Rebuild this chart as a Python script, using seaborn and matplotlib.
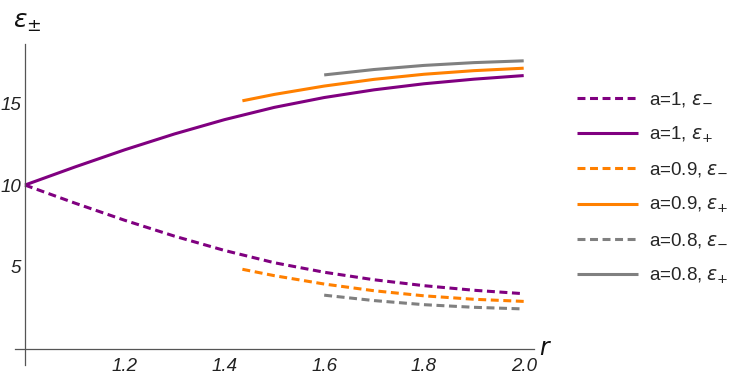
import matplotlib
matplotlib.use("Agg")
import matplotlib.pyplot as plt
import seaborn as sns
import pandas as pd
from matplotlib.ticker import FixedLocator, FuncFormatter

# values
r_a1 = [1.0, 1.1, 1.2, 1.3, 1.4, 1.5, 1.6, 1.7, 1.8, 1.9, 2.0]
eps_minus_a1 = [10.0, 8.9, 7.85, 6.88, 6.01, 5.26, 4.68, 4.22, 3.86, 3.58, 3.37]
eps_plus_a1 = [10.0, 11.1, 12.15, 13.12, 13.99, 14.74, 15.34, 15.81, 16.18, 16.46, 16.68]

r_a09 = [1.436, 1.5, 1.6, 1.7, 1.8, 1.9, 2.0]
eps_minus_a09 = [4.86, 4.47, 3.96, 3.55, 3.24, 3.03, 2.9]
eps_plus_a09 = [15.14, 15.53, 16.04, 16.45, 16.76, 16.98, 17.13]

r_a08 = [1.6, 1.7, 1.8, 1.9, 2.0]
eps_minus_a08 = [3.28, 2.95, 2.7, 2.54, 2.44]
eps_plus_a08 = [16.72, 17.05, 17.3, 17.47, 17.58]

x_major = [1.2, 1.4, 1.6, 1.8, 2.0]
y_major = [5, 10, 15]

PURPLE = "#800080"
ORANGE = "#ff8000"
GRAY = "#808080"

series = [
    (r_a1, eps_minus_a1, "a=1, $\\epsilon_{-}$", PURPLE, True),
    (r_a1, eps_plus_a1, "a=1, $\\epsilon_{+}$", PURPLE, False),
    (r_a09, eps_minus_a09, "a=0.9, $\\epsilon_{-}$", ORANGE, True),
    (r_a09, eps_plus_a09, "a=0.9, $\\epsilon_{+}$", ORANGE, False),
    (r_a08, eps_minus_a08, "a=0.8, $\\epsilon_{-}$", GRAY, True),
    (r_a08, eps_plus_a08, "a=0.8, $\\epsilon_{+}$", GRAY, False),
]

sns.set_style("white")
plt.rcParams["font.family"] = ["Liberation Sans", "DejaVu Sans"]

fig = plt.figure(figsize=(7.41, 3.77), dpi=100)
ax = fig.add_axes([0.0202, 0.031, 0.700, 0.852])

for r, eps, label, color, dashed in series:
    df = pd.DataFrame({"r": r, "eps": eps})
    ls = (0, (2.6, 1.5)) if dashed else "-"
    sns.lineplot(data=df, x="r", y="eps", ax=ax, color=color, linewidth=2.2,
                 linestyle=ls, label=label, estimator=None, sort=False,
                 solid_capstyle="butt", dash_capstyle="butt")

ax.set_xlim(0.98, 2.02)
ax.set_ylim(-1.0, 18.6)

# Mathematica-style axes crossing at (1, 0)
for side in ["top", "right"]:
    ax.spines[side].set_visible(False)
ax.spines["left"].set_position(("data", 1.0))
ax.spines["bottom"].set_position(("data", 0.0))
for side in ["left", "bottom"]:
    ax.spines[side].set_color("#555555")
    ax.spines[side].set_linewidth(0.9)

x_minor = [1.0 + 0.05 * i for i in range(1, 21) if i % 4 != 0]
y_minor = [i for i in range(1, 19) if i % 5 != 0]
ax.xaxis.set_major_locator(FixedLocator(x_major))
ax.xaxis.set_minor_locator(FixedLocator(x_minor))
ax.yaxis.set_major_locator(FixedLocator(y_major))
ax.yaxis.set_minor_locator(FixedLocator(y_minor))
ax.xaxis.set_major_formatter(FuncFormatter(lambda v, p: f"{v:.1f}"))
ax.yaxis.set_major_formatter(FuncFormatter(lambda v, p: f"{v:g}"))

ax.tick_params(which="both", direction="in", color="#555555", width=0.8)
ax.tick_params(which="major", length=4.5, labelsize=13.5, labelcolor="#222222")
ax.tick_params(axis="x", which="major", pad=6.5)
ax.tick_params(axis="y", which="major", pad=3)
ax.tick_params(which="minor", length=2.8)
for lab in ax.get_xticklabels() + ax.get_yticklabels():
    lab.set_fontstyle("italic")

ax.set_xlabel("")
ax.set_ylabel("")
ax.get_legend().remove()

fig.text(27 / 741, 1 - 22 / 377, "$\\epsilon_{\\pm}$", fontsize=18,
         ha="center", va="center", color="#111111")
fig.text(545 / 741, 1 - 349 / 377, "$r$", fontsize=17,
         ha="center", va="center", color="#111111")

handles, labels = ax.get_legend_handles_labels()
fig.legend(handles, labels, loc="center left", bbox_to_anchor=(0.769, 0.501),
           bbox_transform=fig.transFigure, frameon=False, fontsize=13.5,
           handlelength=3.25, handletextpad=0.59, labelspacing=0.84,
           borderaxespad=0)

fig.savefig("out.png", dpi=100)
